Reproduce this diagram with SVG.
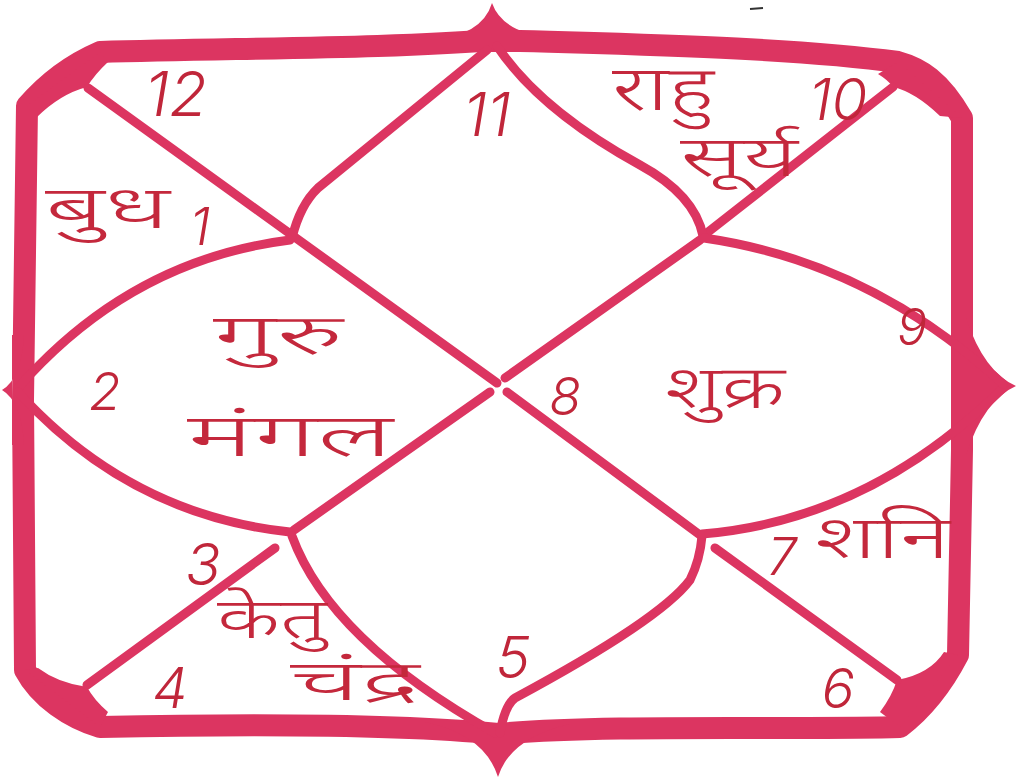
<svg xmlns="http://www.w3.org/2000/svg" width="1019" height="780" viewBox="0 0 1019 780">
<style>
.frame{fill:none;stroke:#dc3561;stroke-width:22;stroke-linejoin:round}
.cusp{fill:#dc3561}
.ln{fill:none;stroke:#dc3561;stroke-width:9;stroke-linecap:round}
.num{font-family:Inter,"Liberation Sans",sans-serif;font-weight:300;font-style:italic;fill:#c0263a}
.hi{font-family:"Noto Sans Devanagari","Noto Sans",sans-serif;font-weight:300;fill:#c4283c}
</style>
<rect width="1019" height="780" fill="#ffffff"/>
<g id="frame">
<path class="frame" d="M100,52 C250,48 400,48 492,40 C600,44 780,46 898,62 C920,68 940,80 962,118 L962,330 L962,450 L958,655 C945,680 925,708 900,727 C800,730 600,724 498,734 C400,724 250,724 100,727 C70,718 40,698 25,670 L23,400 L27,106 C45,85 70,65 100,52 Z"/>
<path class="cusp" d="M36,118 Q60,94 87,87 Q95,74 108,62 L100,52 L27,106 Z"/>
<path class="cusp" d="M878,74 Q888,80 893,87 Q915,92 940,116 L962,118 L898,62 Z"/>
<path class="cusp" d="M944,652 Q930,674 897,680 Q892,696 880,712 L900,727 L958,655 Z"/>
<path class="cusp" d="M38,668 Q58,683 87,687 Q94,700 108,712 L100,727 L25,670 Z"/>
<path class="cusp" d="M430,40 Q482,36 492,3 Q503,34 555,38 L555,52 L430,52 Z"/>
<path class="cusp" d="M425,722 Q485,735 498,777 Q510,738 570,724 L570,738 L425,738 Z"/>
<path class="cusp" d="M24,335 Q22,378 2,390 Q22,402 24,445 L12,445 L12,335 Z"/>
<path class="cusp" d="M966,318 Q984,372 1016,386 Q984,400 966,455 L955,455 L955,318 Z"/>
<path d="M750,9 L763,8" stroke="#333" stroke-width="2" fill="none"/>
</g>
<g id="connectors">
<path class="ln" d="M88,88 L497,383"/>
<path class="ln" d="M507,392 L700,535"/>
<path class="ln" d="M715,548 L897,680"/>
<path class="ln" d="M893,87 L703,236"/>
<path class="ln" d="M700,240 L505,378"/>
<path class="ln" d="M490,392 L294,530"/>
<path class="ln" d="M275,548 L87,685"/>
<path class="ln" d="M487,50 L318,188 Q300,205 292,238"/>
<path class="ln" d="M497,46 Q540,110 640,165 Q695,195 703,236"/>
<path class="ln" d="M290,240 Q130,260 18,388"/>
<path class="ln" d="M18,392 Q130,515 290,532"/>
<path class="ln" d="M292,536 Q330,640 495,733"/>
<path class="ln" d="M500,733 Q505,705 515,698 Q660,620 690,580 Q700,560 702,536"/>
<path class="ln" d="M702,534 Q870,520 1003,388"/>
<path class="ln" d="M1003,384 Q870,262 704,238"/>
</g>
<g id="house12"><text class="num" x="176" y="116" font-size="62" text-anchor="middle">12</text></g>
<g id="house11"><text class="num" x="487" y="136" font-size="60" text-anchor="middle">11</text></g>
<g id="house10">
<text class="num" x="838" y="120" font-size="58" text-anchor="middle">10</text>
<text class="hi" x="612" y="110" font-size="62" textLength="102" lengthAdjust="spacingAndGlyphs">राहु</text>
<text class="hi" x="680" y="176" font-size="56" textLength="118" lengthAdjust="spacingAndGlyphs">सूर्य</text>
</g>
<g id="house1">
<text class="hi" x="45" y="228" font-size="60" textLength="125" lengthAdjust="spacingAndGlyphs">बुध</text>
<text class="num" x="200" y="245" font-size="52" text-anchor="middle">1</text>
</g>
<g id="house2">
<text class="num" x="105" y="410" font-size="52" text-anchor="middle">2</text>
<text class="hi" x="213" y="354" font-size="56" textLength="130" lengthAdjust="spacingAndGlyphs">गुरु</text>
<text class="hi" x="187" y="456" font-size="60" textLength="206" lengthAdjust="spacingAndGlyphs">मंगल</text>
</g>
<g id="house8"><text class="num" x="565" y="415" font-size="52" text-anchor="middle">8</text></g>
<g id="house9">
<text class="hi" x="665" y="408" font-size="60" textLength="120" lengthAdjust="spacingAndGlyphs">शुक्र</text>
<text class="num" x="912" y="345" font-size="50" text-anchor="middle">9</text>
</g>
<g id="house3"><text class="num" x="203" y="585" font-size="58" text-anchor="middle">3</text></g>
<g id="house4">
<text class="num" x="170" y="708" font-size="56" text-anchor="middle">4</text>
<text class="hi" x="217" y="638" font-size="56" textLength="110" lengthAdjust="spacingAndGlyphs">केतु</text>
<text class="hi" x="290" y="700" font-size="56" textLength="130" lengthAdjust="spacingAndGlyphs">चंद्र</text>
</g>
<g id="house5"><text class="num" x="513" y="678" font-size="58" text-anchor="middle">5</text></g>
<g id="house7">
<text class="num" x="782" y="575" font-size="52" text-anchor="middle">7</text>
<text class="hi" x="815" y="558" font-size="60" textLength="135" lengthAdjust="spacingAndGlyphs">शनि</text>
</g>
<g id="house6"><text class="num" x="838" y="708" font-size="55" text-anchor="middle">6</text></g>
</svg>
